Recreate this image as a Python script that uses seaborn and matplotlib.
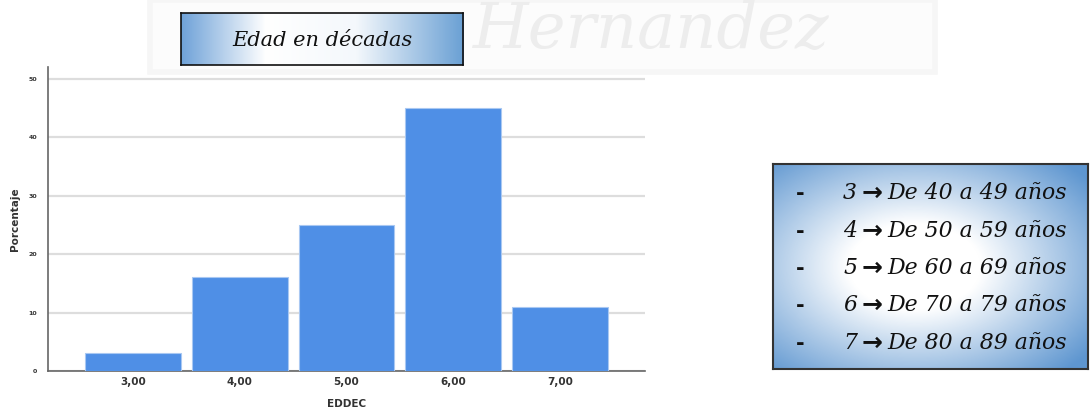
import numpy as np
import pandas as pd
import seaborn as sns
import matplotlib
matplotlib.use("Agg")
import matplotlib.pyplot as plt
from matplotlib.colors import LinearSegmentedColormap
from matplotlib.patches import Rectangle

# data
categories = ["3,00", "4,00", "5,00", "6,00", "7,00"]
percentages = [3, 16, 25, 45, 11]
y_ticks = [0, 10, 20, 30, 40, 50]
title_text = "Edad en décadas"
legend_digits = ["3", "4", "5", "6", "7"]
legend_ranges = [
    "De 40 a 49 años",
    "De 50 a 59 años",
    "De 60 a 69 años",
    "De 70 a 79 años",
    "De 80 a 89 años",
]

W, H = 1092, 412
sns.set_theme(style="white")
plt.rcParams["font.family"] = ["DejaVu Sans"]
serif = ["DejaVu Serif", "DejaVu Sans"]

fig = plt.figure(figsize=(W / 100, H / 100), dpi=100)
fig.patch.set_facecolor("white")


def px_axes(x0, y0, x1, y1, **kw):
    # axes from pixel box (top-left origin)
    return fig.add_axes([x0 / W, 1 - y1 / H, (x1 - x0) / W, (y1 - y0) / H], **kw)


# faint watermark + its shadow box behind everything
fig.patches.append(Rectangle((150 / W, 1 - 72 / H), (935 - 150) / W, 72 / H,
                             transform=fig.transFigure, facecolor="#fcfcfc",
                             edgecolor="#f6f6f6", linewidth=4, zorder=-2))
fig.text(473 / W, 1 - 48 / H, "Hernandez", fontsize=46, color="#ededed",
         family=serif, style="italic", ha="left", va="baseline", zorder=-1)

# bar chart
ax = px_axes(48, 67, 645, 371)
ax.patch.set_alpha(0)
df = pd.DataFrame({"EDDEC": categories, "Porcentaje": percentages})
sns.barplot(data=df, x="EDDEC", y="Porcentaje", color="#4f8fe6", width=0.9,
            edgecolor="#a9c8f2", linewidth=0.8, saturation=1, ax=ax, zorder=3)
ax.set_xlim(-0.8, 4.8)
ax.set_ylim(0, 52)
ax.set_yticks(y_ticks)
ax.set_yticklabels([str(t) for t in y_ticks], fontsize=4.5, fontweight="bold",
                   color="#333333")
ax.set_xticks(range(len(categories)))
ax.set_xticklabels(categories, fontsize=7.5, fontweight="bold", color="#333333")
ax.tick_params(axis="both", length=0, pad=4)
ax.tick_params(axis="y", pad=8)
ax.yaxis.grid(True, color="#dddddd", linewidth=1.6, zorder=0)
ax.set_axisbelow(True)
for s in ["top", "right"]:
    ax.spines[s].set_visible(False)
for s in ["left", "bottom"]:
    ax.spines[s].set_color("#666666")
    ax.spines[s].set_linewidth(1.2)
ax.set_xlabel("EDDEC", fontsize=7.5, fontweight="bold", color="#333333",
              labelpad=9)
ax.set_ylabel("Porcentaje", fontsize=7.5, fontweight="bold", color="#333333",
              labelpad=6)

# title box with horizontal gradient
blue_h = LinearSegmentedColormap.from_list(
    "bh", [(0, "#6fa2d8"), (0.3, "#ffffff"), (0.62, "#f4f8fc"), (1, "#6aa0d4")])
tax = px_axes(181, 13, 463, 65, zorder=5)
tax.imshow(np.linspace(0, 1, 256)[None, :], cmap=blue_h, aspect="auto",
           extent=[0, 1, 0, 1])
tax.set_xticks([])
tax.set_yticks([])
for s in tax.spines.values():
    s.set_color("#111111")
    s.set_linewidth(1.2)
tax.text(0.5, 0.47, title_text, transform=tax.transAxes, ha="center",
         va="center", fontsize=15, style="italic", family=serif,
         color="#111111")

# legend box with radial gradient
lax = px_axes(773, 164, 1088, 369, zorder=5)
gx, gy = np.meshgrid(np.linspace(-1, 1, 300), np.linspace(-1, 1, 200))
r = np.clip(np.sqrt((gx + 0.1) ** 2 + gy ** 2) / 1.4, 0, 1)
blue_r = LinearSegmentedColormap.from_list(
    "br", [(0, "#ffffff"), (0.3, "#ffffff"), (1, "#5e96d0")])
lax.imshow(r, cmap=blue_r, aspect="auto", extent=[0, 1, 0, 1], vmin=0, vmax=1)
lax.set_xticks([])
lax.set_yticks([])
for s in lax.spines.values():
    s.set_color("#333333")
    s.set_linewidth(1.5)
row_y = [193, 231, 268, 305, 343]
for yy, dig, rng in zip(row_y, legend_digits, legend_ranges):
    yf = 1 - yy / H
    fig.text(800 / W, yf, "-", fontsize=15, fontweight="bold", color="#111111",
             ha="center", va="center", family=serif, zorder=6)
    fig.text(843 / W, yf, dig, fontsize=15.8, style="italic", color="#111111",
             ha="left", va="center", family=serif, zorder=6)
    fig.text(872 / W, yf, "\u2192", fontsize=18, fontweight="bold",
             color="#111111", ha="center", va="center", family="DejaVu Sans",
             zorder=6)
    fig.text(887 / W, yf, rng, fontsize=15.8, style="italic", color="#111111",
             ha="left", va="center", family=serif, zorder=6)

fig.savefig("out.png", dpi=100)
